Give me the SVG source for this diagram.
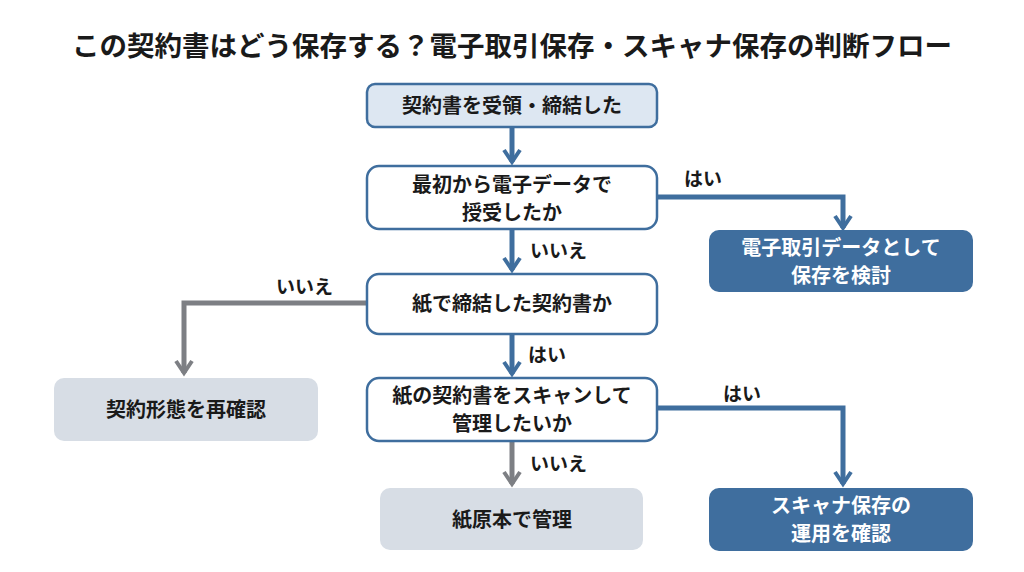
<svg xmlns="http://www.w3.org/2000/svg" width="1024" height="572" viewBox="0 0 1024 572">
<style>
text{font-family:"Noto Sans CJK JP","Noto Sans CJK SC",sans-serif;font-weight:700;text-anchor:middle;fill:#1a1a1a}
.q{fill:#fff;stroke:#3f6e9e;stroke-width:2.5}
.s{fill:#dde7f2;stroke:#3f6e9e;stroke-width:2.5}
.d{fill:#3f6e9e}
.g{fill:#d7dde5}
.n{font-size:20px}
.w{fill:#fff}
.lb{font-size:19px;text-anchor:start}
.cb{fill:none;stroke:#3f6e9e;stroke-width:5}
.cg{fill:none;stroke:#7d7f84;stroke-width:5}
</style>
<defs>
<marker id="ab" viewBox="0 0 10 10" refX="8" refY="5" markerWidth="4" markerHeight="4" orient="auto" markerUnits="strokeWidth"><path d="M2,1 L8,5 L2,9" fill="none" stroke="#3f6e9e" stroke-width="2"/></marker>
<marker id="ag" viewBox="0 0 10 10" refX="8" refY="5" markerWidth="4" markerHeight="4" orient="auto" markerUnits="strokeWidth"><path d="M2,1 L8,5 L2,9" fill="none" stroke="#7d7f84" stroke-width="2"/></marker>
</defs>
<rect width="1024" height="572" fill="#fff"/>
<text x="512" y="56" font-size="27.5">この契約書はどう保存する？電子取引保存・スキャナ保存の判断フロー</text>
<g id="connectors">
<path class="cb" d="M512,128 V162" marker-end="url(#ab)"/>
<path class="cb" d="M657,197 H843 V228" marker-end="url(#ab)"/>
<path class="cb" d="M512,230 V270" marker-end="url(#ab)"/>
<path class="cg" d="M367,303 H184 V373" marker-end="url(#ag)"/>
<path class="cb" d="M512,335 V374" marker-end="url(#ab)"/>
<path class="cb" d="M657,408 H843 V484" marker-end="url(#ab)"/>
<path class="cg" d="M512,442 V484" marker-end="url(#ag)"/>
<text class="lb" x="684" y="186">はい</text>
<text class="lb" x="530" y="258">いいえ</text>
<text class="lb" x="276" y="294">いいえ</text>
<text class="lb" x="528" y="362">はい</text>
<text class="lb" x="723" y="401">はい</text>
<text class="lb" x="530" y="471">いいえ</text>
</g>
<g id="n1"><rect class="s" x="367" y="84" width="290" height="43" rx="8"/><text class="n" x="512" y="113">契約書を受領・締結した</text></g>
<g id="n2"><rect class="q" x="367" y="166" width="290" height="63" rx="12"/><text class="n" x="512" y="192">最初から電子データで</text><text class="n" x="512" y="220">授受したか</text></g>
<g id="n3"><rect class="d" x="709" y="230" width="264" height="62" rx="10"/><text class="n w" x="841" y="255">電子取引データとして</text><text class="n w" x="841" y="283">保存を検討</text></g>
<g id="n4"><rect class="q" x="367" y="274" width="290" height="60" rx="12"/><text class="n" x="512" y="311">紙で締結した契約書か</text></g>
<g id="n5"><rect class="g" x="54" y="378" width="264" height="63" rx="10"/><text class="n" x="186" y="417">契約形態を再確認</text></g>
<g id="n6"><rect class="q" x="367" y="378" width="290" height="63" rx="12"/><text class="n" x="512" y="403">紙の契約書をスキャンして</text><text class="n" x="512" y="431">管理したいか</text></g>
<g id="n7"><rect class="d" x="709" y="488" width="264" height="63" rx="10"/><text class="n w" x="841" y="513">スキャナ保存の</text><text class="n w" x="841" y="541">運用を確認</text></g>
<g id="n8"><rect class="g" x="380" y="488" width="263" height="62" rx="10"/><text class="n" x="512" y="527">紙原本で管理</text></g>
</svg>
